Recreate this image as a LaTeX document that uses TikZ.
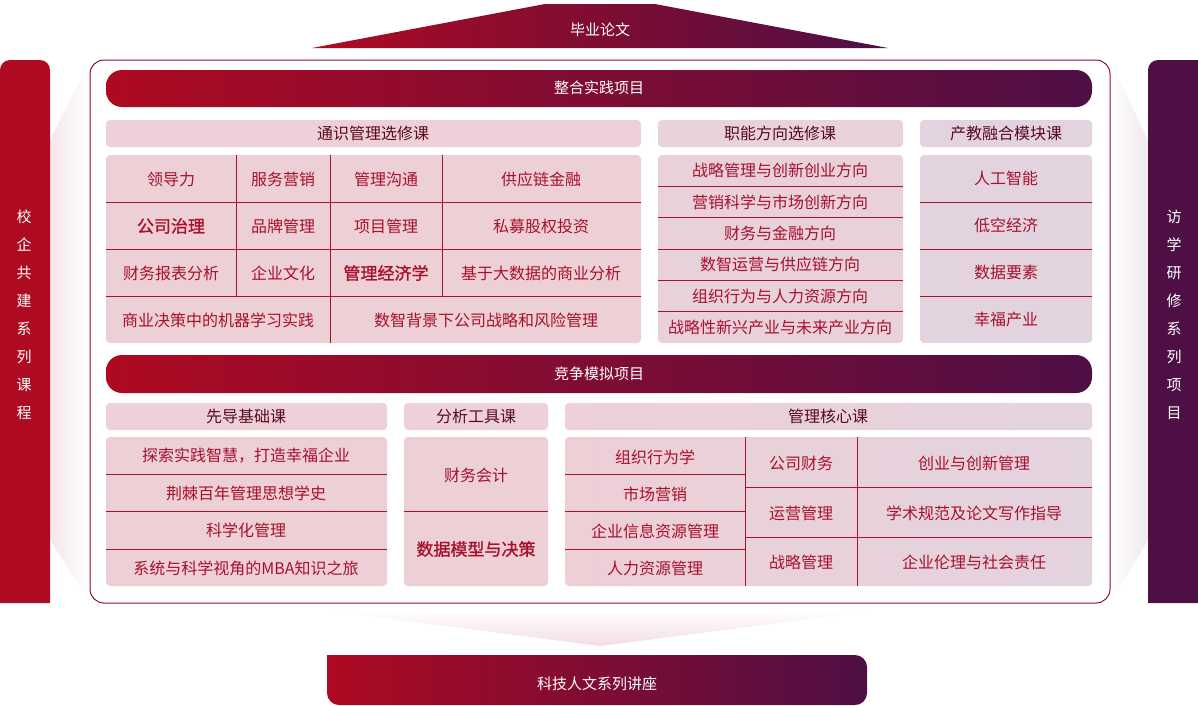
\documentclass[tikz,border=0pt]{standalone}
\usepackage{fontspec}
\setmainfont{Noto Sans CJK SC}
\newfontfamily\cjkb{Noto Sans CJK SC}[FakeBold=1.2]
\usetikzlibrary{positioning}
\definecolor{dred}{HTML}{AE0A22}
\definecolor{dpur}{HTML}{4E0F45}
\definecolor{mred}{HTML}{8A0C2E}
\definecolor{cellA}{HTML}{EDCFD6}
\definecolor{cellB}{HTML}{E3D3DF}
\definecolor{hdrA}{HTML}{EDD0D8}
\definecolor{txt}{HTML}{A8102C}
\definecolor{hdtxt}{HTML}{5A0A20}
\tikzset{
  band/.style={left color=dred, right color=dpur, draw=none},
  sep/.style={draw=txt, line width=0.8pt},
  lbl/.style={text=txt, font=\fontsize{16}{16}\selectfont},
  blbl/.style={text=txt, font=\cjkb\fontsize{17}{17}\selectfont},
  hlbl/.style={text=hdtxt, font=\fontsize{16}{16}\selectfont},
  wlbl/.style={text=white, font=\fontsize{15}{15}\selectfont},
  vlbl/.style={text=white, font=\fontsize{15}{15}\selectfont, align=center}
}
\begin{document}
\begin{tikzpicture}[x=1pt,y=-1pt]
\useasboundingbox (0,0) rectangle (1198,705);
% side funnels
\shade[left color=cellA!50, right color=white] (50,140) -- (90,60) -- (90,603) -- (50,540) -- cycle;
\shade[left color=white, right color=cellB!50] (1110,60) -- (1148,140) -- (1148,540) -- (1110,603) -- cycle;
\shade[top color=white, bottom color=cellA!70] (322,610) -- (880,610) -- (600,646) -- cycle;
% top and bottom
\shade[band] (312,48) -- (545,4) -- (655,4) -- (888,48) -- cycle;
\node[wlbl] (thesis) at (600,30) {毕业论文};
\shade[band, rounded corners=12pt] (327,655) -- (327,705) -- (867,705) -- (867,655) [sharp corners] -- cycle;
\node[wlbl] (lecture) at (597,684) {科技人文系列讲座};
% side bars
\fill[dred, rounded corners=10pt] (0,603) -- (0,60) -- (50,60) [sharp corners] -- (50,603) -- cycle;
\fill[dpur, rounded corners=10pt] (1148,603) -- (1148,60) [sharp corners] -- (1198,60) -- (1198,603) -- cycle;
\node[vlbl] (school) at (24,315) {校\\[13pt]企\\[13pt]共\\[13pt]建\\[13pt]系\\[13pt]列\\[13pt]课\\[13pt]程};
\node[vlbl] (visit) at (1174,315) {访\\[13pt]学\\[13pt]研\\[13pt]修\\[13pt]系\\[13pt]列\\[13pt]项\\[13pt]目};
% frame
\draw[draw=dred!70!dpur, line width=1pt, fill=white, rounded corners=14pt] (90,60) rectangle (1110,603);
% banners
\shade[band, rounded corners=16pt] (106,70) rectangle (1092,107);
\node[wlbl] (integ) at (599,88) {整合实践项目};
\shade[band, rounded corners=16pt] (106,355) rectangle (1092,393);
\node[wlbl] (compet) at (599,374) {竞争模拟项目};
% headers
\fill[hdrA, rounded corners=4pt] (106,120) rectangle (641,147);
\node[hlbl] (h1) at (373,133) {通识管理选修课};
\fill[hdrA!50!cellB, rounded corners=4pt] (658,120) rectangle (903,147);
\node[hlbl] (h2) at (780,133) {职能方向选修课};
\fill[cellB, rounded corners=4pt] (920,120) rectangle (1092,147);
\node[hlbl] (h3) at (1006,133) {产教融合模块课};
\fill[hdrA, rounded corners=4pt] (106,403) rectangle (387,430);
\node[hlbl] (h4) at (246,416) {先导基础课};
\fill[hdrA, rounded corners=4pt] (404,403) rectangle (548,430);
\node[hlbl] (h5) at (476,416) {分析工具课};
\shade[left color=hdrA, right color=cellB, rounded corners=4pt] (565,403) rectangle (1092,430);
\node[hlbl] (h6) at (828,416) {管理核心课};
% general electives
\fill[cellA, rounded corners=4pt] (106,155) rectangle (641,343);
\foreach \y in {202,249,296} \draw[sep] (106,\y) -- (641,\y);
\foreach \x in {236,330,442} \draw[sep] (\x,155) -- (\x,296);
\draw[sep] (330,296) -- (330,343);
\node[lbl] at (171,179) {领导力};
\node[lbl] at (283,179) {服务营销};
\node[lbl] at (386,179) {管理沟通};
\node[lbl] at (541,179) {供应链金融};
\node[blbl] at (171,226) {公司治理};
\node[lbl] at (283,226) {品牌管理};
\node[lbl] at (386,226) {项目管理};
\node[lbl] at (541,226) {私募股权投资};
\node[lbl] at (171,273) {财务报表分析};
\node[lbl] at (283,273) {企业文化};
\node[blbl] at (386,273) {管理经济学};
\node[lbl] at (541,273) {基于大数据的商业分析};
\node[lbl] at (218,320) {商业决策中的机器学习实践};
\node[lbl] at (486,320) {数智背景下公司战略和风险管理};
% functional electives
\fill[cellA!50!cellB, rounded corners=4pt] (658,155) rectangle (903,343);
\foreach \i in {1,...,5} \draw[sep] (658,155+\i*31.33) -- (903,155+\i*31.33);
\foreach \t [count=\i] in {战略管理与创新创业方向,营销科学与市场创新方向,财务与金融方向,数智运营与供应链方向,组织行为与人力资源方向,战略性新兴产业与未来产业方向}
  \node[lbl] at (780,155+\i*31.33-15.7) {\t};
% industry modules
\fill[cellB, rounded corners=4pt] (920,155) rectangle (1092,343);
\foreach \y in {202,249,296} \draw[sep] (920,\y) -- (1092,\y);
\foreach \t [count=\i] in {人工智能,低空经济,数据要素,幸福产业}
  \node[lbl] at (1006,155+\i*47-23.5) {\t};
% foundation
\fill[cellA, rounded corners=4pt] (106,437) rectangle (387,586);
\foreach \y in {474,511,549} \draw[sep] (106,\y) -- (387,\y);
\node[lbl] at (246,456) {探索实践智慧，打造幸福企业};
\node[lbl] at (246,493) {荆棘百年管理思想学史};
\node[lbl] at (246,530) {科学化管理};
\node[lbl] at (246,568) {系统与科学视角的MBA知识之旅};
% tools
\fill[cellA, rounded corners=4pt] (404,437) rectangle (548,586);
\draw[sep] (404,511) -- (548,511);
\node[lbl] at (476,475) {财务会计};
\node[blbl] at (476,549) {数据模型与决策};
% core
\shade[left color=cellA, right color=cellB, rounded corners=4pt] (565,437) rectangle (1092,586);
\draw[sep] (745,437) -- (745,586);
\draw[sep] (857,437) -- (857,586);
\foreach \y in {474,511,549} \draw[sep] (565,\y) -- (745,\y);
\foreach \y in {487,537} \draw[sep] (745,\y) -- (1092,\y);
\node[lbl] at (655,457) {组织行为学};
\node[lbl] at (655,494) {市场营销};
\node[lbl] at (655,531) {企业信息资源管理};
\node[lbl] at (655,568) {人力资源管理};
\node[lbl] at (801,463) {公司财务};
\node[lbl] at (801,513) {运营管理};
\node[lbl] at (801,562) {战略管理};
\node[lbl] at (974,463) {创业与创新管理};
\node[lbl] at (974,513) {学术规范及论文写作指导};
\node[lbl] at (974,562) {企业伦理与社会责任};
\end{tikzpicture}
\end{document}
